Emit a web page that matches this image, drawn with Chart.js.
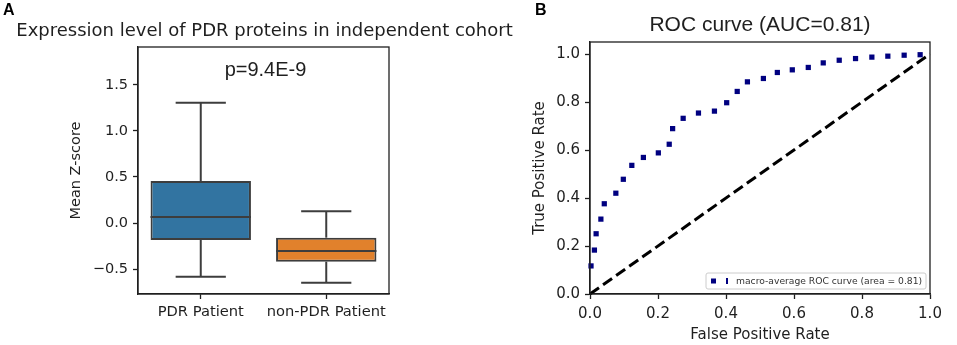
<!DOCTYPE html>
<html>
<head>
<meta charset="utf-8">
<script src="https://cdn.jsdelivr.net/npm/chart.js@4.4.1/dist/chart.umd.min.js"></script>
<style>
  html,body{margin:0;padding:0;background:#fff;}
  #wrap{position:relative;width:957px;height:345px;overflow:hidden;}
  canvas{position:absolute;top:0;}
  #boxA{left:0;}
  #rocB{left:525px;}
</style>
</head>
<body>
<div id="wrap">
  <canvas id="boxA" width="525" height="345"></canvas>
  <canvas id="rocB" width="432" height="345"></canvas>
</div>
<script>
// ---- panel A: box plot ----
const boxLabels = ['PDR Patient', 'non-PDR Patient'];
const boxMin    = [-0.582, -0.647];
const boxQ1     = [-0.184, -0.419];
const boxMedian = [0.065, -0.304];
const boxQ3     = [0.455, -0.159];
const boxMax    = [1.305, 0.127];
const boxColors = ['#3274a1', '#e1812c'];
const yTicksA   = [-0.5, 0, 0.5, 1.0, 1.5];
const pValueText = 'p=9.4E-9';

// ---- panel B: ROC curve ----
const rocFpr = [0.003,0.013,0.018,0.032,0.042,0.076,0.098,0.123,0.157,0.201,0.233,0.243,0.274,0.319,0.366,0.402,0.433,0.463,0.510,0.551,0.595,0.642,0.686,0.733,0.781,0.829,0.876,0.924,0.971];
const rocTpr = [0.117,0.183,0.251,0.312,0.376,0.420,0.478,0.536,0.569,0.588,0.624,0.689,0.732,0.754,0.762,0.797,0.844,0.884,0.898,0.923,0.934,0.944,0.963,0.974,0.981,0.987,0.991,0.995,0.997];
const chanceX = [0, 1];
const chanceY = [0, 1];
const ticksB = [0, 0.2, 0.4, 0.6, 0.8, 1.0];
const legendText = 'macro-average ROC curve (area = 0.81)';

const DJ = "'DejaVu Sans', sans-serif";
const AR = "'Liberation Sans', Arial, sans-serif";
const INK = '#1f1f1f';
const EDGE = '#3d3d3d';

const fmt = v => (v < 0 ? '\u2212' : '') + Math.abs(v).toFixed(1);

// box frame (matplotlib spines on all 4 sides)
const framePlugin = {
  id: 'frame',
  afterDraw(chart){
    const {ctx, chartArea:a} = chart;
    ctx.save();
    ctx.strokeStyle = INK; ctx.lineWidth = 1.3;
    ctx.strokeRect(a.left, a.top, a.right - a.left, a.bottom - a.top);
    ctx.restore();
  }
};

// whiskers, caps and medians for the box plot
const whiskerPlugin = {
  id: 'whiskers',
  afterDatasetsDraw(chart){
    const {ctx, scales:{x, y}} = chart;
    const meta = chart.getDatasetMeta(0);
    ctx.save();
    ctx.strokeStyle = EDGE; ctx.lineWidth = 2; ctx.lineCap = 'butt';
    const seg = (x0, y0, x1, y1) => { ctx.beginPath(); ctx.moveTo(x0, y0); ctx.lineTo(x1, y1); ctx.stroke(); };
    boxLabels.forEach((lab, i) => {
      const cx = x.getPixelForValue(i);
      const w = meta.data[i].width;
      seg(cx, y.getPixelForValue(boxQ3[i]), cx, y.getPixelForValue(boxMax[i]));
      seg(cx, y.getPixelForValue(boxQ1[i]), cx, y.getPixelForValue(boxMin[i]));
      seg(cx - w/4, y.getPixelForValue(boxMax[i]), cx + w/4, y.getPixelForValue(boxMax[i]));
      seg(cx - w/4, y.getPixelForValue(boxMin[i]), cx + w/4, y.getPixelForValue(boxMin[i]));
      seg(cx - w/2, y.getPixelForValue(boxMedian[i]), cx + w/2, y.getPixelForValue(boxMedian[i]));
    });
    ctx.restore();
  }
};

const textA = {
  id: 'textA',
  afterDraw(chart){
    const {ctx, chartArea:a, scales:{y}} = chart;
    const cx = (a.left + a.right) / 2;
    ctx.save();
    ctx.fillStyle = '#000';
    ctx.textBaseline = 'middle';
    ctx.font = 'bold 16px ' + AR; ctx.textAlign = 'left';
    ctx.fillText('A', 3, 11);
    ctx.fillStyle = INK;
    ctx.font = '18px ' + DJ; ctx.textAlign = 'center';
    ctx.fillText('Expression level of PDR proteins in independent cohort', cx + 1, 31);
    ctx.font = '20px ' + AR;
    ctx.fillText(pValueText, cx + 2, y.getPixelForValue(1.65));
    ctx.restore();
  }
};

new Chart(document.getElementById('boxA'), {
  type: 'bar',
  data: {
    labels: boxLabels,
    datasets: [{
      data: boxQ1.map((q, i) => [q, boxQ3[i]]),
      backgroundColor: boxColors,
      borderColor: EDGE,
      borderWidth: 2,
      borderSkipped: false,
      barPercentage: 0.8,
      categoryPercentage: 1
    }]
  },
  options: {
    responsive: false, animation: false,
    layout: { padding: { left: 68, top: 47, right: 136, bottom: 0 } },
    plugins: { legend: {display: false}, tooltip: {enabled: false} },
    scales: {
      x: {
        afterFit: s => { s.height = 51; },
        grid: { offset: false, drawOnChartArea: false, tickLength: 5, tickColor: INK, tickWidth: 1.3 },
        border: { color: INK, width: 1.3 },
        ticks: { color: INK, font: {family: DJ, size: 14.7}, padding: 4 }
      },
      y: {
        min: -0.77, max: 1.91,
        afterFit: s => { s.width = 70; },
        afterBuildTicks: s => { s.ticks = yTicksA.map(v => ({value: v})); },
        grid: { drawOnChartArea: false, tickLength: 5, tickColor: INK, tickWidth: 1.3 },
        border: { color: INK, width: 1.3 },
        ticks: { color: INK, font: {family: DJ, size: 14.5}, padding: 5, callback: v => fmt(v) },
        title: { display: true, text: 'Mean Z-score', color: INK, font: {family: DJ, size: 14.5}, padding: 0 }
      }
    }
  },
  plugins: [whiskerPlugin, framePlugin, textA]
});

// panel B text + in-axes legend
const textB = {
  id: 'textB',
  afterDraw(chart){
    const {ctx, chartArea:a} = chart;
    ctx.save();
    ctx.textBaseline = 'middle';
    ctx.fillStyle = '#000';
    ctx.font = 'bold 16px ' + AR; ctx.textAlign = 'left';
    ctx.fillText('B', 10, 10.5);
    ctx.fillStyle = INK;
    ctx.font = '21px ' + AR; ctx.textAlign = 'center';
    ctx.fillText('ROC curve (AUC=0.81)', (a.left + a.right) / 2, 25);

    // legend box, lower right
    const bw = 220, bh = 16;
    const bx = a.right - 4 - bw, by = a.bottom - 5 - bh;
    ctx.beginPath();
    ctx.roundRect(bx, by, bw, bh, 2);
    ctx.fillStyle = 'rgba(255,255,255,0.85)'; ctx.fill();
    ctx.strokeStyle = '#cccccc'; ctx.lineWidth = 1; ctx.stroke();
    const my = by + bh / 2;
    ctx.fillStyle = '#000080';
    ctx.fillRect(bx + 5, my - 2.5, 5, 5);
    ctx.fillRect(bx + 20, my - 3, 2, 6);
    ctx.fillStyle = '#333';
    ctx.font = '9.2px ' + DJ; ctx.textAlign = 'left';
    ctx.fillText(legendText, bx + 30, my + 0.5);
    ctx.restore();
  }
};

new Chart(document.getElementById('rocB'), {
  type: 'scatter',
  data: {
    datasets: [
      {
        type: 'line',
        data: chanceX.map((x, i) => ({x, y: chanceY[i]})),
        borderColor: '#000', borderWidth: 3, borderDash: [11, 5],
        pointRadius: 0, fill: false, clip: false
      },
      {
        data: rocFpr.map((x, i) => ({x, y: rocTpr[i]})),
        pointStyle: 'rect', pointRadius: 3.7, pointBorderWidth: 0,
        backgroundColor: '#000080', borderColor: '#000080', clip: false
      }
    ]
  },
  options: {
    responsive: false, animation: false,
    layout: { padding: { left: 6, top: 42, right: 27, bottom: 0 } },
    plugins: { legend: {display: false}, tooltip: {enabled: false} },
    scales: {
      x: {
        type: 'linear', min: 0, max: 1,
        afterFit: s => { s.height = 51; },
        afterBuildTicks: s => { s.ticks = ticksB.map(v => ({value: v})); },
        grid: { drawOnChartArea: false, tickLength: 5, tickColor: INK, tickWidth: 1.3 },
        border: { color: INK, width: 1.3 },
        ticks: { color: INK, font: {family: DJ, size: 15}, padding: 6, callback: v => fmt(v) },
        title: { display: true, text: 'False Positive Rate', color: INK, font: {family: DJ, size: 15}, padding: {top: 0, bottom: 1} }
      },
      y: {
        min: 0, max: 1.05,
        afterFit: s => { s.width = 59; },
        afterBuildTicks: s => { s.ticks = ticksB.map(v => ({value: v})); },
        grid: { drawOnChartArea: false, tickLength: 5, tickColor: INK, tickWidth: 1.3 },
        border: { color: INK, width: 1.3 },
        ticks: { color: INK, font: {family: DJ, size: 15}, padding: 5, callback: v => fmt(v) },
        title: { display: true, text: 'True Positive Rate', color: INK, font: {family: DJ, size: 15}, padding: 0 }
      }
    }
  },
  plugins: [framePlugin, textB]
});
</script>
</body>
</html>
